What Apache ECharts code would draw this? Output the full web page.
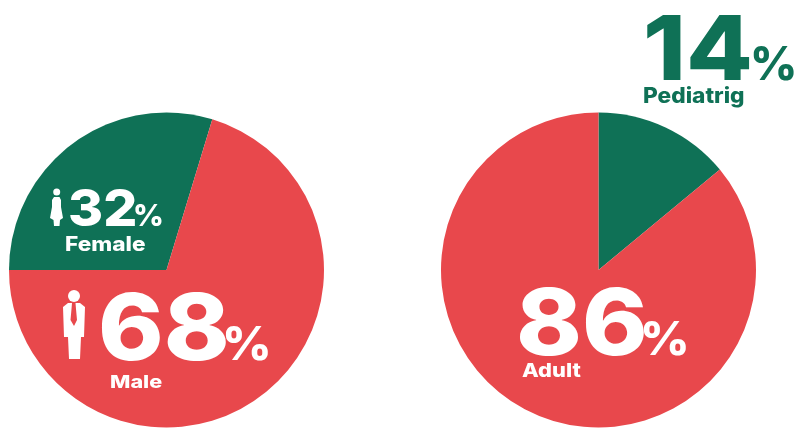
<!DOCTYPE html>
<html><head><meta charset="utf-8">
<style>html,body{margin:0;padding:0;background:#fff}#c{width:797px;height:428px}</style>
<script src="https://cdn.jsdelivr.net/npm/echarts@6/dist/echarts.min.js"></script>
</head><body><div id="c"></div>
<script>
const RED = '#e8484c', GREEN = '#0f7156';
const genderCategories = ['Female', 'Male'];
// Printed labels say 32/68; the drawn wedge in the picture measures about 29.7/70.3.
const genderWedges = [29.7, 70.3];
const ageCategories = ['Pediatrig', 'Adult'];
const ageWedges = [14, 86];
const FONT = 'Inter, "Open Sans", sans-serif';

function txt(s, x, capTop, capBottom, size, color, sx) {
  return { type: 'text', x: x, y: (capTop + capBottom) / 2 + 0.08 * size, scaleX: sx || 1, z: 10, silent: true,
    style: { text: s, fill: color, font: '800 ' + size + 'px ' + FONT, textAlign: 'left', textVerticalAlign: 'middle' } };
}
function poly(points) {
  return { type: 'polygon', z: 10, silent: true, shape: { points: points }, style: { fill: '#fff' } };
}
function dot(cx, cy, r) {
  return { type: 'circle', z: 10, silent: true, shape: { cx: cx, cy: cy, r: r }, style: { fill: '#fff' } };
}
const maleBody = [[68,303],[72,303],[71.5,309],[70.5,320],[74,326],[77,320],[76,309],[75.5,303],[80,303],[85,307],[84,337],[81,337],[80,359],[69,359],[68,337],[64,337],[63,307]];
const femaleBody = [[54,197],[59.5,197],[61,200],[61,207],[63,218],[60,220],[59.5,226],[54,226],[53.5,220],[50,218],[52,207],[52,200]];

const chart = echarts.init(document.getElementById('c'), null, { renderer: 'canvas' });
function pie(center, startAngle, cats, vals) {
  return { type: 'pie', center: center, radius: [0, 157.5], startAngle: startAngle, clockwise: true, silent: true, animation: false,
    label: { show: false }, labelLine: { show: false },
    data: cats.map((c, i) => ({ name: c, value: vals[i], itemStyle: { color: i === 0 ? GREEN : RED } })) };
}
chart.setOption({
  backgroundColor: '#fff', animation: false,
  series: [
    pie([166.5, 270], 180, genderCategories, genderWedges),
    pie([598.5, 270], 90, ageCategories, ageWedges)
  ],
  graphic: { elements: [
    txt('32', 68, 187, 226, 51, '#fff', 1.05), txt('%', 133, 203, 226, 30, '#fff', 1.0), txt('Female', 65, 236, 250, 20, '#fff', 1.13),
    txt('68', 98, 290, 360, 92, '#fff', 1.08), txt('%', 222, 325, 360, 46, '#fff', 1.05), txt('Male', 110, 375, 387, 18, '#fff', 1.2),
    txt('86', 516, 285, 355, 92, '#fff', 1.08), txt('%', 640, 320, 355, 46, '#fff', 1.05), txt('Adult', 522, 363, 377, 19, '#fff', 1.15),
    txt('14', 643, 12, 80, 90, GREEN, 1.08), txt('%', 750, 45, 80, 46, GREEN, 1.0), txt('Pediatrig', 643, 88, 103, 21, GREEN, 1.08),
    dot(74, 296, 6), poly(maleBody), dot(56.7, 192, 3.5), poly(femaleBody)
  ] }
});
</script></body></html>
